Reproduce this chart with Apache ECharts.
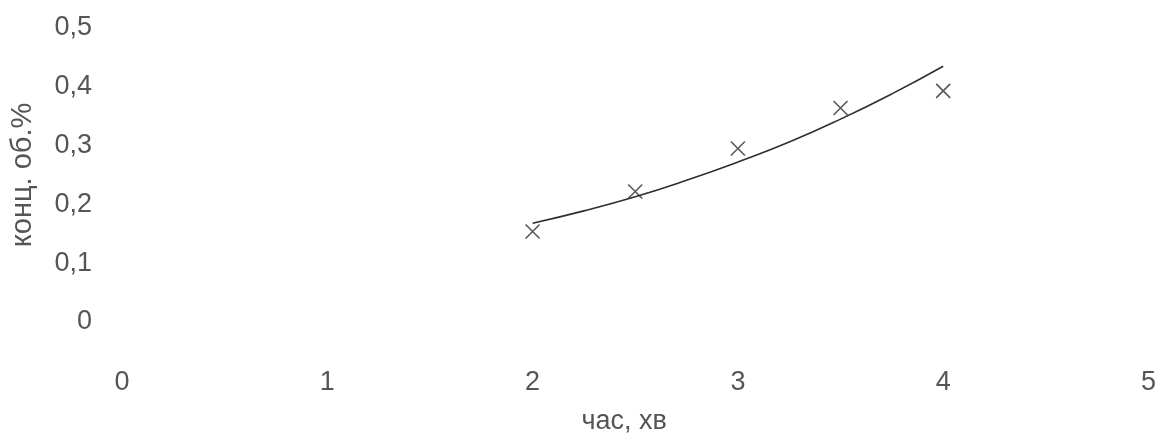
<!DOCTYPE html>
<html>
<head>
<meta charset="utf-8">
<script src="https://cdn.jsdelivr.net/npm/echarts@6/dist/echarts.min.js"></script>
<style>
html,body{margin:0;padding:0;background:#fff;}
#c{width:1159px;height:440px;}
</style>
</head>
<body>
<div id="c"></div>
<script>
// Measured points (time, min -> concentration, vol.%)
const timeMin = [2, 2.5, 3, 3.5, 4];
const concMeasured = [0.154, 0.222, 0.295, 0.364, 0.393];
// Trend line
const trendTime = [2, 2.25, 2.5, 2.75, 3, 3.25, 3.5, 3.75, 4];
const trendConc = [0.168, 0.189, 0.213, 0.241, 0.272, 0.306, 0.345, 0.388, 0.435];
const xTicks = [0, 1, 2, 3, 4, 5];
const yTicks = [0, 0.1, 0.2, 0.3, 0.4, 0.5];
const xName = 'час, хв';
const yName = 'конц. об.%';

const fmt = v => String(+v.toFixed(2)).replace('.', ',');
const font = '"Liberation Sans", Arial, sans-serif';
const txt = '#555555';

const chart = echarts.init(document.getElementById('c'), null, {renderer: 'canvas'});
chart.setOption({
  backgroundColor: '#fff',
  animation: false,
  grid: {left: 116, right: 5, top: 28, bottom: 118, containLabel: false},
  xAxis: {
    type: 'value', min: xTicks[0], max: xTicks[xTicks.length - 1], interval: 1,
    axisLine: {show: false}, axisTick: {show: false}, splitLine: {show: false},
    axisLabel: {margin: 47, fontSize: 27, color: txt, fontFamily: font, formatter: fmt},
    name: xName, nameLocation: 'middle', nameGap: 86,
    nameTextStyle: {fontSize: 27, color: txt, fontFamily: font, padding: [0, 22, 0, 0]}
  },
  yAxis: {
    type: 'value', min: yTicks[0], max: yTicks[yTicks.length - 1], interval: 0.1,
    axisLine: {show: false}, axisTick: {show: false}, splitLine: {show: false},
    axisLabel: {margin: 30, fontSize: 27, color: txt, fontFamily: font, formatter: fmt},
    name: yName, nameLocation: 'middle', nameGap: 85, nameRotate: 90,
    nameTextStyle: {fontSize: 29, color: txt, fontFamily: font}
  },
  series: [
    {
      type: 'line', data: trendTime.map((t, i) => [t, trendConc[i]]),
      smooth: true, showSymbol: false, symbol: 'none',
      lineStyle: {color: '#2e2e2e', width: 1.6}
    },
    {
      type: 'scatter', data: timeMin.map((t, i) => [t, concMeasured[i]]),
      symbol: 'path://M0,0L10,10M10,0L0,10', symbolSize: 14,
      itemStyle: {color: 'none', borderColor: '#2e2e2e', borderWidth: 1.6}
    }
  ]
});
</script>
</body>
</html>
